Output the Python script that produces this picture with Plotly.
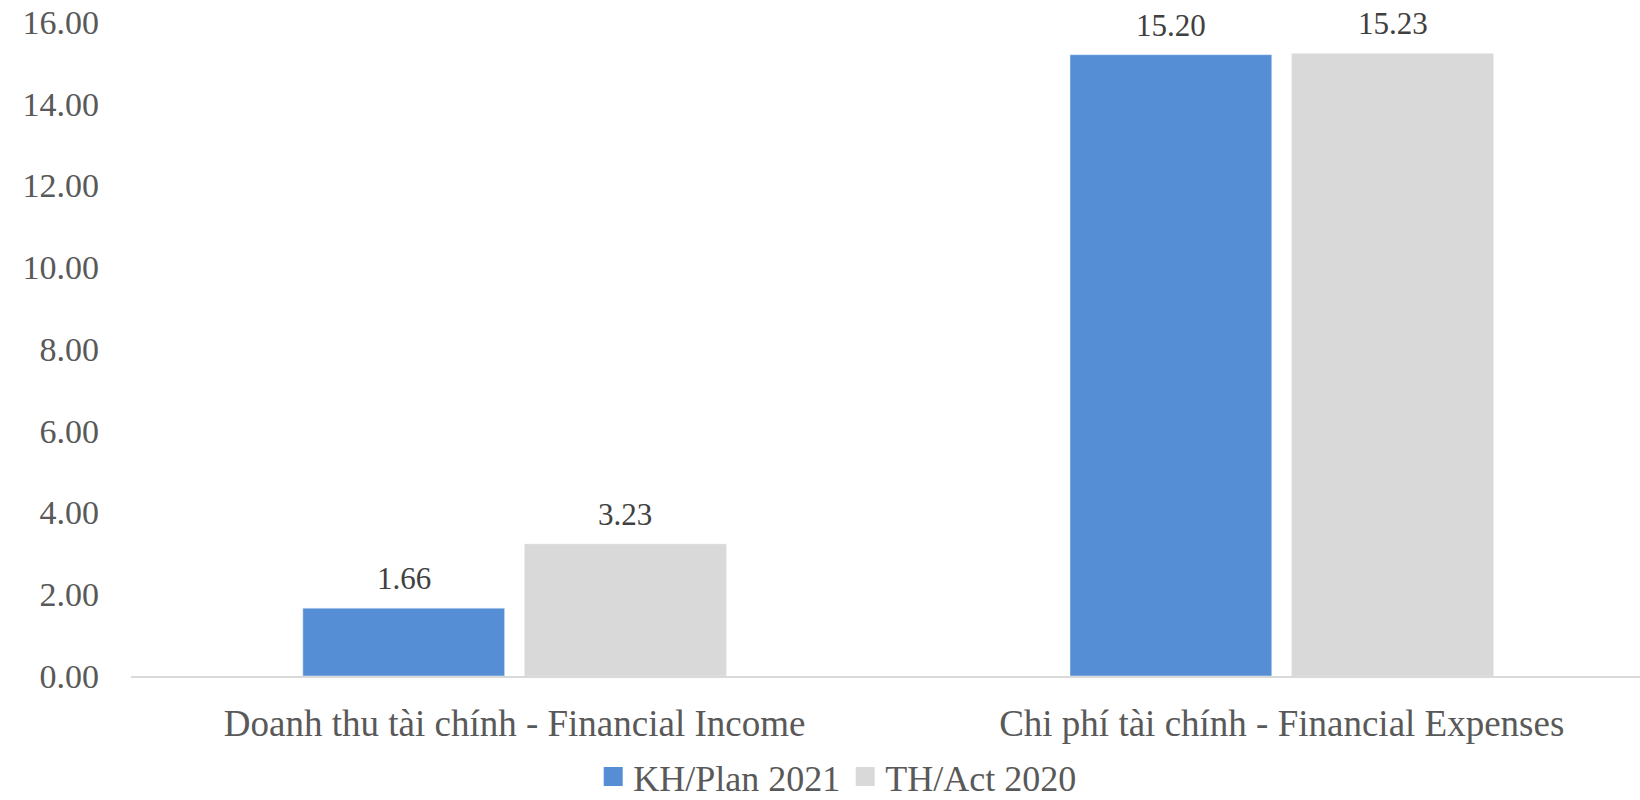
import plotly.graph_objects as go

categories = ["Doanh thu tài chính - Financial Income", "Chi phí tài chính - Financial Expenses"]
plan_2021 = [1.66, 15.20]
act_2020 = [3.23, 15.23]
y_ticks = [0, 2, 4, 6, 8, 10, 12, 14, 16]

serif = "Liberation Serif, Times New Roman, serif"
blue = "#558ED5"
gray = "#D9D9D9"
bar_w = 0.263
gap = 0.026
x_range = [-0.5, 1.467]
plot_px = 1640 - 131

fig = go.Figure()
series = [("KH/Plan 2021", plan_2021, blue, -gap / 2 - bar_w),
          ("TH/Act 2020", act_2020, gray, gap / 2)]
for name, vals, col, off in series:
    fig.add_trace(go.Bar(x=categories, y=vals, name=name, marker_color=col,
                         width=bar_w, offset=off, showlegend=False))
    # value labels above bars
    shift = (off + bar_w / 2) * plot_px / (x_range[1] - x_range[0])
    for c, v in zip(categories, vals):
        fig.add_annotation(x=c, y=v, text=f"{v:.2f}", showarrow=False,
                           xshift=shift, yanchor="bottom", yshift=10,
                           font=dict(size=31, color="#404040", family=serif))
    # legend entry with a larger square swatch
    fig.add_trace(go.Scatter(x=[None], y=[None], mode="markers", name=name,
                             marker=dict(symbol="square", size=16, color=col,
                                         line=dict(color=col, width=3))))

fig.update_layout(
    width=1640, height=800,
    margin=dict(l=131, r=0, t=22, b=124, autoexpand=False),
    plot_bgcolor="white", paper_bgcolor="white",
    barmode="overlay",
    font=dict(family=serif, color="#595959"),
    legend=dict(orientation="h", x=0.468, xanchor="center", y=-0.154, yanchor="middle",
                font=dict(size=36, color="#595959"), itemwidth=30,
                tracegroupgap=0),
)
fig.update_xaxes(range=x_range, showline=True, linecolor=gray, linewidth=2,
                 tickfont=dict(size=37, color="#595959"), ticklabelstandoff=14,
                 automargin=False)
fig.update_yaxes(range=[0, 16], tickvals=y_ticks, tickformat=".2f", showgrid=False,
                 zeroline=False, tickfont=dict(size=34, color="#595959"),
                 ticklabelstandoff=31, automargin=False)

# drop the default page margin so the figure fills the window exactly
fig.write_html("out.html", config={"displayModeBar": False},
               post_script="document.body.style.margin='0';")
